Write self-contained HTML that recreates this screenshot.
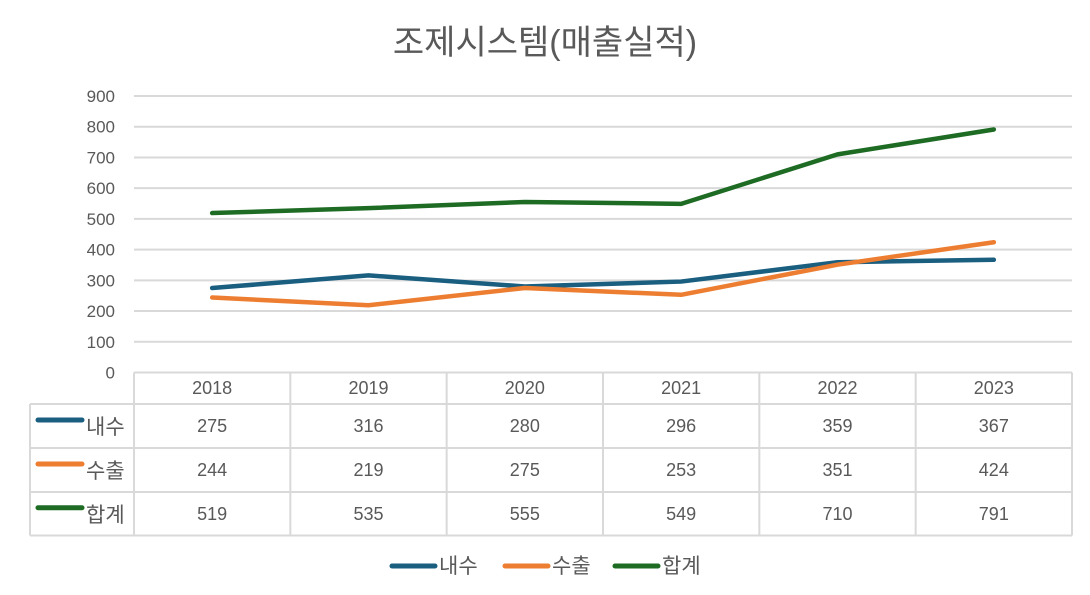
<!DOCTYPE html>
<html><head><meta charset="utf-8"><style>
body{margin:0;background:#fff;}
svg text{font-family:"Liberation Sans","Noto Sans CJK KR",sans-serif;fill:#595959;}
</style></head><body>
<svg id="chart" width="1090" height="590" xmlns="http://www.w3.org/2000/svg">
<rect width="1090" height="590" fill="#fff"/>
<text x="545" y="54" font-size="34" text-anchor="middle">조제시스템(매출실적)</text>
<g id="grid"></g><g id="yticks"></g><g id="table"></g><g id="lines"></g><g id="legend"></g>
</svg>
<script>
const categories=["2018","2019","2020","2021","2022","2023"];
const seriesNames=["내수","수출","합계"];
const domestic=[275,316,280,296,359,367];
const exportVals=[244,219,275,253,351,424];
const total=[519,535,555,549,710,791];
const yTicks=[0,100,200,300,400,500,600,700,800,900];
const colors=["#1a5e80","#ed7d31","#1e6b24"];
const allSeries=[domestic,exportVals,total];
const NS="http://www.w3.org/2000/svg";
const x0=134,x1=1072,yBase=372.5,yTop=96;
const bw=(x1-x0)/categories.length;
const xs=i=>x0+bw*(i+0.5);
const ys=v=>yBase-(v/900)*(yBase-yTop);
function mk(tag,attrs,parent,text){const e=document.createElementNS(NS,tag);for(const k in attrs)e.setAttribute(k,attrs[k]);if(text!==undefined)e.textContent=text;parent.appendChild(e);return e;}
const grid=document.getElementById('grid'),yt=document.getElementById('yticks'),tb=document.getElementById('table'),ln=document.getElementById('lines'),lg=document.getElementById('legend');
yTicks.forEach(t=>{
 if(t>0){const g=mk('line',{x1:x0,x2:x1,y1:ys(t),y2:ys(t),stroke:'#d9d9d9','stroke-width':2},grid);
 
 }
 const l=mk('text',{x:115,y:ys(t)+6,'font-size':17,'text-anchor':'end'},yt,t);
 
 
});
const rowY=[372.5,404,448,492,535.5];
const st={stroke:'#d9d9d9','stroke-width':2};
mk('line',Object.assign({x1:x0,x2:x1,y1:372.5,y2:372.5},st),tb);
for(let r=1;r<rowY.length;r++)mk('line',Object.assign({x1:30,x2:x1,y1:rowY[r],y2:rowY[r]},st),tb);
mk('line',Object.assign({x1:30,x2:30,y1:404,y2:535.5},st),tb);
for(let i=0;i<=categories.length;i++)mk('line',Object.assign({x1:x0+bw*i,x2:x0+bw*i,y1:372.5,y2:535.5},st),tb);
categories.forEach((c,i)=>{const t=mk('text',{x:xs(i),y:394,'font-size':18,'text-anchor':'middle'},tb,c);
 
 });
allSeries.forEach((s,si)=>{
 const cy=(rowY[si+1]+rowY[si+2])/2;
 mk('line',{x1:38,x2:82,y1:cy-6,y2:cy-6,stroke:colors[si],'stroke-width':5,'stroke-linecap':'round'},tb);
 mk('text',{x:86,y:cy+8,'font-size':21},tb,seriesNames[si]);
 s.forEach((v,i)=>{const t=mk('text',{x:xs(i),y:cy+6,'font-size':18,'text-anchor':'middle'},tb,v);
  
  });
 const p=mk('polyline',{points:s.map((v,i)=>xs(i)+','+ys(v)).join(' '),fill:'none',stroke:colors[si],'stroke-width':4.5,'stroke-linecap':'round','stroke-linejoin':'round'},ln);
 
 
});
const lx=[392,505,615];
seriesNames.forEach((n,i)=>{
 mk('line',{x1:lx[i],x2:lx[i]+43,y1:566,y2:566,stroke:colors[i],'stroke-width':5,'stroke-linecap':'round'},lg);
 const t=mk('text',{x:lx[i]+47,y:573,'font-size':21},lg,n);
 
 
});
</script>
</body></html>
